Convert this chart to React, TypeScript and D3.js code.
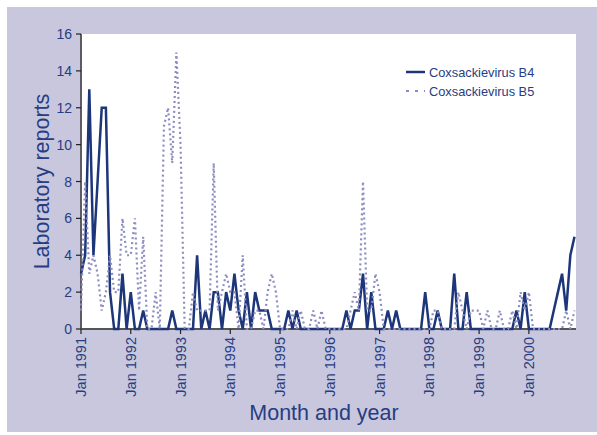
import React from "react";
import * as d3 from "d3";

// Monthly laboratory reports, Jan 1991 – Dec 2000
const b4Values = [
  3, 4, 13, 4, 8, 12, 12, 2, 0, 0, 3, 0,
  2, 0, 0, 1, 0, 0, 0, 0, 0, 0, 1, 0,
  0, 0, 0, 0, 4, 0, 1, 0, 2, 2, 0, 2,
  1, 3, 1, 0, 2, 0, 2, 1, 1, 1, 0, 0,
  0, 0, 1, 0, 1, 0, 0, 0, 0, 0, 0, 0,
  0, 0, 0, 0, 1, 0, 1, 1, 3, 0, 2, 0,
  0, 0, 1, 0, 1, 0, 0, 0, 0, 0, 0, 2,
  0, 0, 1, 0, 0, 0, 3, 0, 0, 2, 0, 0,
  0, 0, 0, 0, 0, 0, 0, 0, 0, 1, 0, 2,
  0, 0, 0, 0, 0, 0, 1, 2, 3, 1, 4, 5,
];
const b5Values = [
  1, 8, 3, 4, 3, 1, 2, 4, 2, 2, 6, 4,
  4, 6, 1, 5, 0, 0, 2, 0, 11, 12, 9, 15,
  10, 0, 0, 2, 1, 1, 1, 1, 9, 1, 2, 3,
  2, 2, 0, 4, 0, 0, 1, 1, 0, 2, 3, 2,
  0, 0, 0, 1, 0, 1, 0, 0, 1, 0, 1, 0,
  0, 0, 0, 0, 0, 1, 2, 1, 8, 1, 1, 3,
  2, 0, 0, 0, 0, 0, 0, 0, 0, 0, 0, 0,
  0, 1, 1, 0, 0, 0, 0, 2, 1, 0, 1, 1,
  1, 0, 1, 0, 0, 1, 0, 0, 1, 0, 2, 1,
  2, 0, 0, 0, 0, 0, 0, 0, 0, 1, 0, 1,
];
const seriesNames = ["Coxsackievirus B4", "Coxsackievirus B5"];
const yearLabels = [
  "Jan 1991", "Jan 1992", "Jan 1993", "Jan 1994", "Jan 1995",
  "Jan 1996", "Jan 1997", "Jan 1998", "Jan 1999", "Jan 2000",
];
const yTicks = [0, 2, 4, 6, 8, 10, 12, 14, 16];

const W = 597;
const H = 435;
const plot = { left: 81, right: 574.5, top: 34, bottom: 329 };
const FONT = "'Liberation Sans', Arial, sans-serif";
const NAVY = "#1d3679";
const TEXT = "#273d82";
const DOT = "#8c8cc2";
const BG = "#c8c7de";

export default function App() {
  const x = d3
    .scaleLinear()
    .domain([0, b4Values.length - 1])
    .range([plot.left, plot.right]);
  const y = d3.scaleLinear().domain([0, 16]).range([plot.bottom, plot.top]);
  const line = d3
    .line<number>()
    .x((_, i) => x(i))
    .y((d) => y(d));

  return (
    <svg
      width={W}
      height={H}
      style={{ position: "absolute", left: 0, top: 0, background: "#fff" }}
      fontFamily={FONT}
    >
      <rect x={7} y={7} width={W - 7} height={425} fill={BG} />
      <rect
        x={plot.left + 1}
        y={plot.top}
        width={576 - plot.left - 1}
        height={plot.bottom - plot.top}
        fill="#fff"
      />
      {/* y axis */}
      <line x1={plot.left} x2={plot.left} y1={plot.top} y2={plot.bottom} stroke="#222" strokeWidth={1.3} />
      {yTicks.map((t) => (
        <g key={t}>
          <line x1={plot.left - 5} x2={plot.left} y1={y(t)} y2={y(t)} stroke="#222" strokeWidth={1.2} />
          <text x={72} y={y(t)} dy="0.36em" textAnchor="end" fontSize={14} fill={TEXT}>
            {t}
          </text>
        </g>
      ))}
      {/* x axis */}
      <line x1={plot.left} x2={576} y1={plot.bottom} y2={plot.bottom} stroke="#555" strokeWidth={2} />
      {yearLabels.map((lab, k) => {
        const xi = x(k * 12);
        return (
          <g key={lab}>
            <line x1={xi} x2={xi} y1={plot.bottom} y2={plot.bottom + 5} stroke="#222" strokeWidth={1.2} />
            <text
              transform={`translate(${xi + 5},${plot.bottom + 8}) rotate(-90)`}
              textAnchor="end"
              fontSize={14.5}
              fill={TEXT}
            >
              {lab}
            </text>
          </g>
        );
      })}
      {/* series */}
      <path d={line(b4Values) || ""} fill="none" stroke={NAVY} strokeWidth={2.5} strokeLinejoin="miter" />
      <path d={line(b5Values) || ""} fill="none" stroke={DOT} strokeWidth={2.2} strokeDasharray="2 3" />
      {/* titles */}
      <text
        transform={`translate(49,${(plot.top + plot.bottom) / 2}) rotate(-90)`}
        textAnchor="middle"
        fontSize={21.5}
        fill={TEXT}
      >
        Laboratory reports
      </text>
      <text x={324} y={420} textAnchor="middle" fontSize={21.5} fill={TEXT}>
        Month and year
      </text>
      {/* legend */}
      <line x1={406} x2={425} y1={72} y2={72} stroke={NAVY} strokeWidth={2.5} />
      <text x={429} y={76.7} fontSize={12.8} fill={TEXT}>
        {seriesNames[0]}
      </text>
      <line x1={406} x2={425} y1={91} y2={91} stroke={DOT} strokeWidth={2.2} strokeDasharray="3 6" />
      <text x={429} y={96} fontSize={12.8} fill={TEXT}>
        {seriesNames[1]}
      </text>
    </svg>
  );
}
